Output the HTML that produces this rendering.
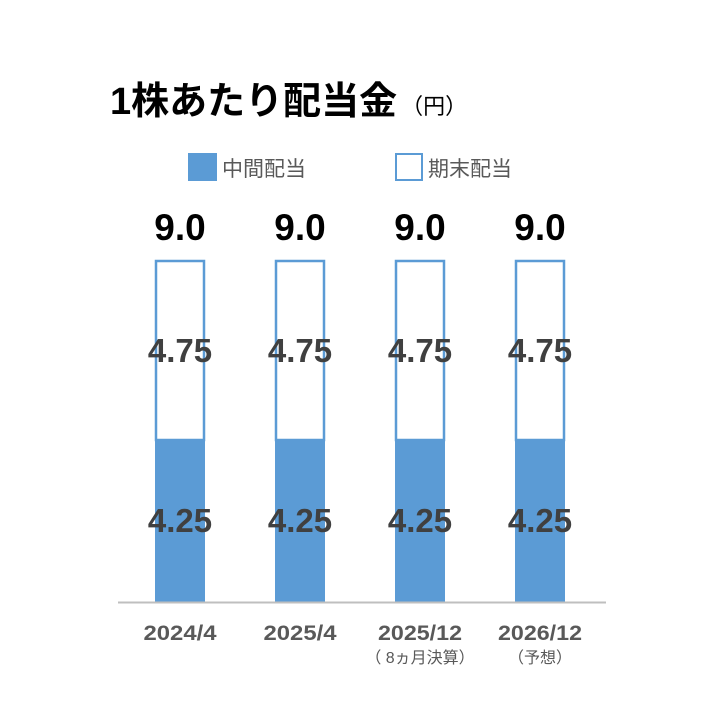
<!DOCTYPE html>
<html><head><meta charset="utf-8"><style>
body{margin:0;background:#fff;}
svg text{font-family:"Liberation Sans","Noto Sans CJK JP",sans-serif;}
</style></head><body>
<svg width="720" height="720" xmlns="http://www.w3.org/2000/svg">
<rect width="720" height="720" fill="#fff"/>
<text x="110" y="114" font-size="38" font-weight="bold" fill="#000">1株あたり配当金<tspan font-size="22" font-weight="normal" dx="4">（円）</tspan></text>
<rect x="188" y="153" width="29" height="28" fill="#5b9bd5"/>
<text x="222" y="176" font-size="21" fill="#595959">中間配当</text>
<rect x="396" y="154" width="26" height="26" fill="#fff" stroke="#5b9bd5" stroke-width="2"/>
<text x="428" y="176" font-size="21" fill="#595959">期末配当</text>
<g font-weight="bold" text-anchor="middle">
<rect x="156" y="261" width="48" height="179" fill="#fff" stroke="#5b9bd5" stroke-width="2.5"/>
<rect x="155" y="440" width="50" height="162" fill="#5b9bd5"/>
<text x="180" y="240" font-size="37" fill="#000">9.0</text>
<text x="180" y="362" font-size="33" fill="#404040">4.75</text>
<text x="180" y="532" font-size="33" fill="#404040">4.25</text>

<rect x="276" y="261" width="48" height="179" fill="#fff" stroke="#5b9bd5" stroke-width="2.5"/>
<rect x="275" y="440" width="50" height="162" fill="#5b9bd5"/>
<text x="300" y="240" font-size="37" fill="#000">9.0</text>
<text x="300" y="362" font-size="33" fill="#404040">4.75</text>
<text x="300" y="532" font-size="33" fill="#404040">4.25</text>

<rect x="396" y="261" width="48" height="179" fill="#fff" stroke="#5b9bd5" stroke-width="2.5"/>
<rect x="395" y="440" width="50" height="162" fill="#5b9bd5"/>
<text x="420" y="240" font-size="37" fill="#000">9.0</text>
<text x="420" y="362" font-size="33" fill="#404040">4.75</text>
<text x="420" y="532" font-size="33" fill="#404040">4.25</text>

<rect x="516" y="261" width="48" height="179" fill="#fff" stroke="#5b9bd5" stroke-width="2.5"/>
<rect x="515" y="440" width="50" height="162" fill="#5b9bd5"/>
<text x="540" y="240" font-size="37" fill="#000">9.0</text>
<text x="540" y="362" font-size="33" fill="#404040">4.75</text>
<text x="540" y="532" font-size="33" fill="#404040">4.25</text>
</g>
<line x1="118" y1="602.5" x2="606" y2="602.5" stroke="#bfbfbf" stroke-width="2"/>
<g font-weight="bold" font-size="21" fill="#595959" text-anchor="middle">
<text x="180" y="640" textLength="73" lengthAdjust="spacingAndGlyphs">2024/4</text>
<text x="300" y="640" textLength="73" lengthAdjust="spacingAndGlyphs">2025/4</text>
<text x="420" y="640" textLength="84" lengthAdjust="spacingAndGlyphs">2025/12</text>
<text x="540" y="640" textLength="84" lengthAdjust="spacingAndGlyphs">2026/12</text>
</g>
<g font-size="16" fill="#595959" text-anchor="middle">
<text x="420" y="663">（ 8ヵ月決算）</text>
<text x="540" y="663">（予想）</text>
</g>
</svg>
</body></html>
